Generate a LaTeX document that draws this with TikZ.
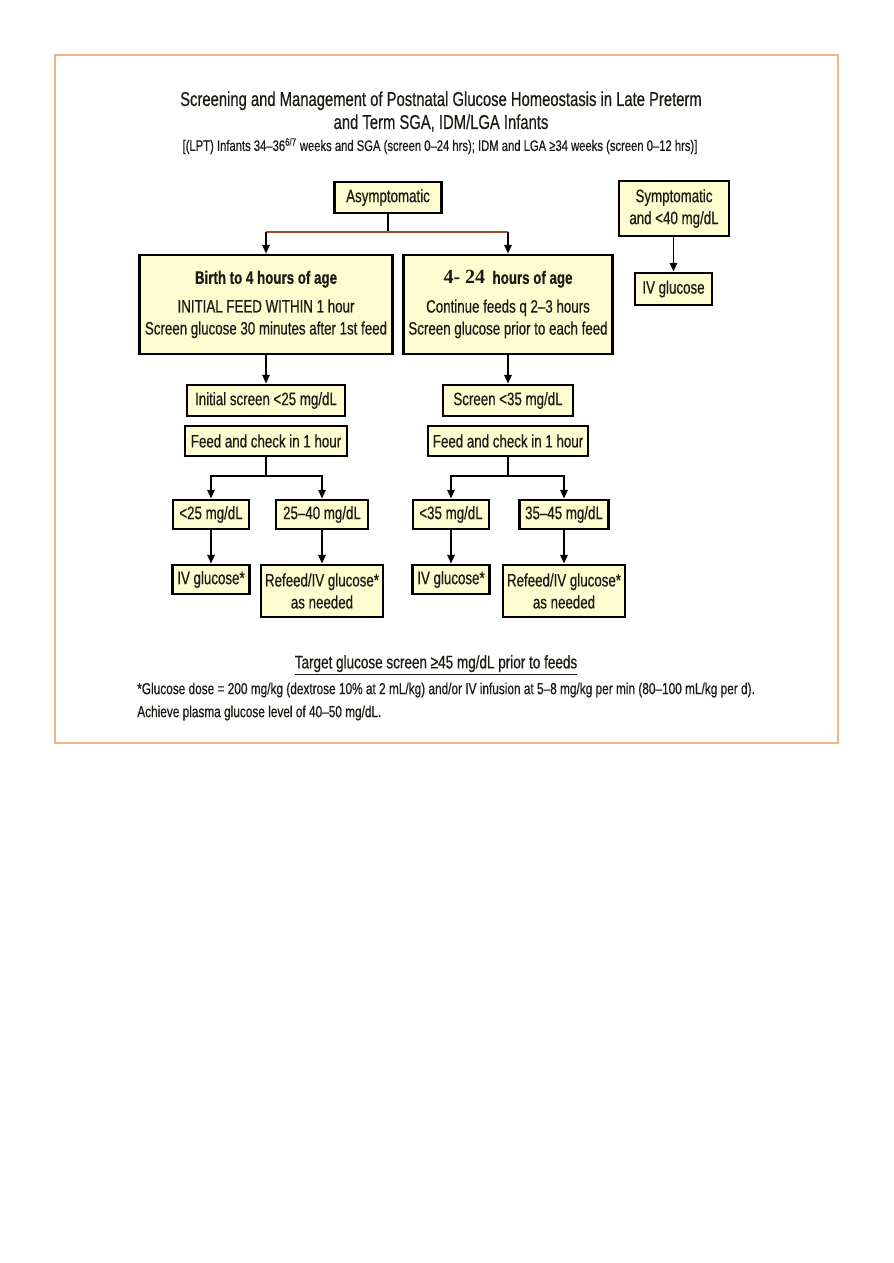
\documentclass[tikz,border=0pt]{standalone}
\usepackage{fontspec}
\setmainfont{Liberation Sans}[FakeStretch=0.74,FakeBold=0.5]
\newfontfamily\numfont{Liberation Serif}
\usetikzlibrary{arrows.meta}
\definecolor{frameorange}{HTML}{F4B183}
\definecolor{boxfill}{HTML}{FFFCD0}
\definecolor{forkbrown}{HTML}{9C4A2A}
\definecolor{inkdark}{HTML}{1C1A14}

\begin{document}
\begin{tikzpicture}[x=0.75pt,y=-0.75pt,
  box/.style={draw,line width=2.2pt,fill=boxfill,text=inkdark,align=center,inner sep=0pt,
    font=\fontsize{13.5}{16.5}\selectfont},
  sz/.style 2 args={minimum width=#1*0.75pt,minimum height=#2*0.75pt},
  arr/.style={-{Triangle[length=6.5pt,width=5.5pt]},line width=1.4pt},
  link/.style={line width=1.4pt}]
\useasboundingbox[fill=white] (0,0) rectangle (893,1263);
\draw[frameorange,line width=1.5pt] (55,55) rectangle (838,743);

% heading
\node[text=inkdark,align=center,font=\fontsize{15}{17.25}\selectfont] (title) at (441,111.5)
  {Screening and Management of Postnatal Glucose Homeostasis in Late Preterm\\
   and Term SGA, IDM/LGA Infants};
\node[text=inkdark,font=\fontsize{11.4}{13}\selectfont] (subtitle) at (440,146)
  {[(LPT) Infants 34--36\textsuperscript{6/7} weeks and SGA (screen 0--24 hrs); IDM and LGA ≥34 weeks (screen 0--12 hrs)]};

% top row
\node[box,sz={107}{31}] (asym) at (388,197.5) {Asymptomatic};
\node[box,sz={110}{55}] (symp) at (674,208.5) {Symptomatic\\ and <40 mg/dL};
\node[box,sz={77}{32}] (ivs) at (673.5,289) {IV glucose};

% age boxes
\node[box,sz={253}{99}] (birth) at (266,304.5)
  {{\bfseries Birth to 4 hours of age}\\[5pt]
   INITIAL FEED WITHIN 1 hour\\ Screen glucose 30 minutes after 1st feed};
\node[box,sz={209}{99}] (late) at (508,304.5)
  {{\numfont\bfseries\fontsize{15}{16}\selectfont 4- 24}\ \ {\bfseries hours of age}\\[5pt]
   Continue feeds q 2--3 hours\\ Screen glucose prior to each feed};

% left branch
\node[box,sz={158}{31}] (initL) at (266,400.5) {Initial screen <25 mg/dL};
\node[box,sz={162}{30}] (feedL) at (266,441) {Feed and check in 1 hour};
\node[box,sz={76}{29}] (lowL) at (211,514.5) {<25 mg/dL};
\node[box,sz={92}{29}] (midL) at (322,514.5) {25--40 mg/dL};
\node[box,sz={77}{29}] (ivL) at (211,579.5) {IV glucose*};
\node[box,sz={122}{52}] (refL) at (322,591) {Refeed/IV glucose*\\ as needed};

% right branch
\node[box,sz={130}{31}] (initR) at (508,400.5) {Screen <35 mg/dL};
\node[box,sz={160}{30}] (feedR) at (508,441) {Feed and check in 1 hour};
\node[box,sz={76}{29}] (lowR) at (451,514.5) {<35 mg/dL};
\node[box,sz={89}{29}] (midR) at (564,514.5) {35--45 mg/dL};
\node[box,sz={77}{29}] (ivR) at (451,579.5) {IV glucose*};
\node[box,sz={122}{52}] (refR) at (564,591) {Refeed/IV glucose*\\ as needed};

% footer
\node[text=inkdark,font=\fontsize{13.7}{15}\selectfont] (target) at (436,665)
  {\underline{Target glucose screen ≥45 mg/dL prior to feeds}};
\node[text=inkdark,anchor=west,align=left,inner sep=0pt,font=\fontsize{12}{17.25}\selectfont] (note) at (137,701.5)
  {*Glucose dose = 200 mg/kg (dextrose 10\% at 2 mL/kg) and/or IV infusion at 5--8 mg/kg per min (80--100 mL/kg per d).\\
   Achieve plasma glucose level of 40--50 mg/dL.};

% connectors
\coordinate (forkA) at (388,232);
\coordinate (forkL) at (266,476);
\coordinate (forkR) at (508,476);
\draw[link] (asym.south) -- (forkA);
\draw[link,forkbrown] (forkA -| birth.north) -- (forkA -| late.north);
\draw[arr] (forkA -| birth.north) -- (birth.north);
\draw[arr] (forkA -| late.north) -- (late.north);
\draw[arr] (symp.south -| ivs.north) -- (ivs.north);

\draw[arr] (birth.south) -- (initL.north);
\draw[link] (feedL.south) -- (forkL);
\draw[arr] (forkL) -| (lowL.north);
\draw[arr] (forkL) -| (midL.north);
\draw[arr] (lowL.south) -- (ivL.north);
\draw[arr] (midL.south) -- (refL.north);

\draw[arr] (late.south) -- (initR.north);
\draw[link] (feedR.south) -- (forkR);
\draw[arr] (forkR) -| (lowR.north);
\draw[arr] (forkR) -| (midR.north);
\draw[arr] (lowR.south) -- (ivR.north);
\draw[arr] (midR.south) -- (refR.north);
\end{tikzpicture}
\end{document}
